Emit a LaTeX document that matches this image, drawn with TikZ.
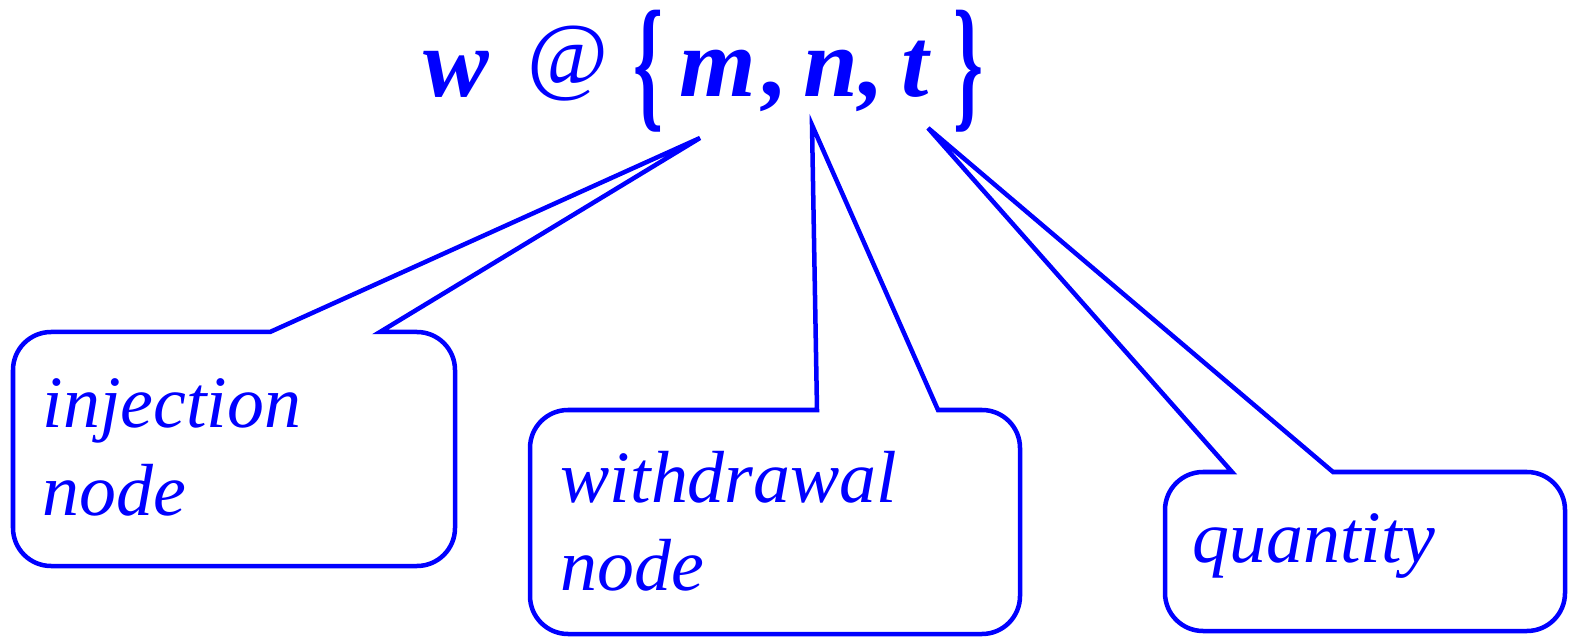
\documentclass[tikz,border=0pt]{standalone}
\usepackage{fontspec}
\usepackage{graphicx}
\setmainfont{Liberation Serif}

\begin{document}
\begin{tikzpicture}[x=0.01cm, y=-0.01cm,
    callout/.style={draw=blue, line width=0.45mm, rounded corners=0.38cm}, % 标注框
    formula/.style={text=blue, inner sep=0pt, font=\fontsize{28}{30}\selectfont}, % 公式字符
    remark/.style={text=blue, inner sep=0pt, align=left, font=\fontsize{21}{25}\selectfont\itshape} % 框内文字
  ]
    \useasboundingbox (0,0) rectangle (1570,637);

    % 1. 顶部公式 w @ {m, n, t}
    \node [formula, anchor=base] (w) at (456, 97) {\bfseries\itshape w};
    \node [formula, anchor=center, font=\fontsize{25}{27}\selectfont] (at) at (568, 64) {@};
    \node [formula, anchor=center] (lb) at (648, 71) {\resizebox*{0.3cm}{1.22cm}{\bfseries\{}};
    \node [formula, anchor=base] (m) at (718, 97) {\bfseries\itshape m};
    \node [formula, anchor=base] (c1) at (772, 97) {\bfseries ,};
    \node [formula, anchor=base] (n) at (831, 97) {\bfseries\itshape n};
    \node [formula, anchor=base] (c2) at (868, 97) {\bfseries ,};
    \node [formula, anchor=base] (t) at (915, 97) {\bfseries\itshape t};
    \node [formula, anchor=center] (rb) at (968, 71) {\resizebox*{0.3cm}{1.22cm}{\bfseries\}}};

    % 2. 指针尖端(各字符下方)
    \coordinate (mtip) at (700, 138);
    \coordinate (ntip) at (812, 125);
    \coordinate (ttip) at (928, 128);

    % 3. 三个带指针的圆角框(指针两侧的角保持尖角)
    \draw [callout] (13, 450) -- (13, 332) [sharp corners] -- (270, 332) -- (mtip) -- (380, 332)
        [rounded corners=0.38cm] -- (455, 332) -- (455, 566) -- (13, 566) -- cycle;
    \draw [callout] (530, 520) -- (530, 410) [sharp corners] -- (817, 410) -- (ntip) -- (938, 410)
        [rounded corners=0.38cm] -- (1020, 410) -- (1020, 634) -- (530, 634) -- cycle;
    \draw [callout] (1165, 550) -- (1165, 472) [sharp corners] -- (1232, 472) -- (ttip) -- (1333, 472)
        [rounded corners=0.38cm] -- (1565, 472) -- (1565, 631) -- (1165, 631) -- cycle;

    % 4. 框内文字(base 锚点对应最后一行基线)
    \node [remark, anchor=base west] (inj) at (42, 515) {injection\\node};
    \node [remark, anchor=base west] (wdr) at (560, 590) {withdrawal\\node};
    \node [remark, anchor=base west] (qty) at (1192, 562) {quantity};
\end{tikzpicture}
\end{document}
